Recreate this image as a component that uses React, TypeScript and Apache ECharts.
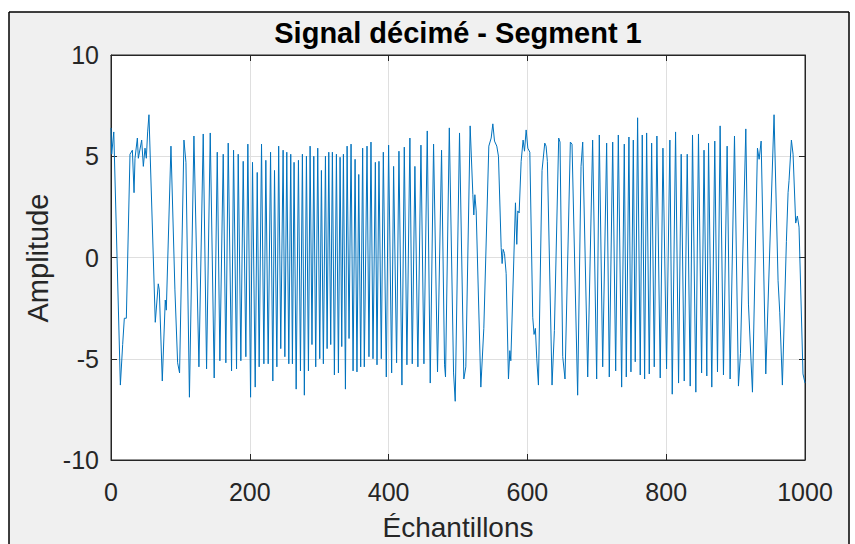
import React, { useEffect, useRef } from "react";
import * as echarts from "echarts";

// Sample positions (x) and amplitudes (y) of the turning points
const SAMPLE_IDX = [
  0, 1, 4, 13.5, 16.8, 19.2, 22.1, 27.4, 30.8, 33.2, 34.6, 38, 39.4, 44.2, 46.6, 49, 50.9, 52.8, 54.7,
  63.8, 68.1, 69.6, 73.9, 78.2, 79.7, 86.4, 92.1, 96, 98.8, 105.1, 108, 113,
  119.5, 126.7, 132.9, 137.7, 143, 148.7, 153.1, 156.9, 161.7, 165.5, 168.9, 173.7, 176.6, 180.9,
  183.3, 187.1, 190.5, 194.3, 197.2, 201.1, 203.9, 207.8, 210.7, 213.5, 216.9, 220.3, 223.1, 226.5,
  229.9, 233.2, 235.6, 239, 241.6, 244.6, 248, 250.5, 253.3, 256.2, 259, 261.4, 263.8, 266.8, 270.1,
  273, 275.8, 278.6, 281.6, 284.5, 286.9, 289.6, 292.2, 295, 297.9, 300.8, 303.2, 306, 309, 311.4,
  313.8, 316.6, 319, 321.9, 324.8, 327.7, 330.1, 332.5, 334.9, 337.8, 340.2, 343, 345.9, 348.8,
  351.7, 354.4, 357, 359.8, 362.6, 365, 368.9, 371.7, 374.6, 377.5, 380.9, 383.3, 386.1, 389.5,
  392.4, 396.7, 400, 404.4, 407.2, 411.5, 414.9, 419.2, 422.6, 426.4, 430.7, 434.1, 437.9, 442.2,
  446.6, 450.9, 455.7, 460, 464.8, 470.5, 476.3, 480.6, 482, 487.5, 493.6, 496, 502.2, 508.4, 511.3,
  517.5, 521.4, 522.8, 524.3, 526.2, 532.9, 537.2, 544.4, 547.8, 550.2, 552.6, 555.9, 558.3, 562.2,
  563.6, 565, 567, 569.4, 572.7, 574.7, 576.1, 582.8, 584.7, 586.2, 588.1, 591, 593.8, 595.8, 598.2,
  600.6, 603.5, 607.7, 609.6, 611.5, 613.5, 615.9, 621.1, 625, 626.9, 628.8, 635.5, 638.9, 645.1,
  647, 650.9, 654.2, 661.9, 664.3, 672.4, 677.3, 679.7, 686.9, 694, 699.8, 703.6, 708.5, 714.2, 718,
  722.9, 727.2, 731, 735.8, 739.6, 742.5, 746.3, 749.2, 752.6, 755.4, 758.8, 762.6, 765.5, 768.9,
  771.8, 775.6, 779, 782.8, 786.6, 791.4, 795.3, 800.5, 805.3, 808.7, 813.5, 817.8, 821.6, 826,
  830.3, 834.6, 837.9, 842.7, 846.5, 851, 854.5, 858.5, 861, 865.7, 870, 873.9, 877.7, 882.5, 887.8,
  892.1, 898.4, 904.1, 907, 914.7, 918.5, 924.3, 931.5, 933.9, 936.8, 943.5, 955.4, 961.2, 963.6,
  967.4, 973.2, 975.6, 977, 980.4, 982.8, 986.6, 989, 991.4, 997.1, 1000,
];

const AMPLITUDE = [
  6.4, 5.1, 6.2, -6.3, -4.3, -3.0, -3.0, 5.1, 5.3, 3.2, 4.9, 5.9, 4.9, 5.8, 4.5, 5.4, 4.9, 6.2, 7.05,
  -3.2, -1.3, -1.6, -6.1, -2.1, -2.6, 5.5, -1.6, -5.2, -5.7, 5.8, 4.7, -6.9,
  6.0, -5.4, 6.1, -5.5, 6.15, -5.95, 5.2, -5.1, 5.1, -5.2, 5.65, -5.6, 5.3, -5.5,
  5.1, -5.1, 4.75, -4.9, 5.6, -6.9, 4.7, -6.4, 4.2, -5.4, 5.6, -5.25, 4.8, -5.25,
  5.2, -6.1, 4.3, -5.4, 5.5, -4.5, 5.3, -4.9, 5.2, -5.25, 5.1, -5.25, 4.7, -6.5, 4.8,
  -5.6, 5.1, -6.8, 5.0, -5.6, 5.5, -4.3, 5.0, -5.4, 5.4, -5.0, 4.3, -5.25, 5.0, -4.5,
  5.2, -4.3, 5.2, -5.8, 5.1, -5.7, 4.95, -4.4, 5.1, -6.5, 5.5, -4.0, 5.6, -5.6,
  4.85, -5.65, 4.1, -5.4, 5.4, -5.4, 5.5, -4.9, 5.7, -5.0, 4.7, -5.3, 4.75, -5.0,
  5.2, -5.9, 5.55, -5.7, 4.5, -5.2, 5.25, -6.3, 5.45, -5.3, 5.9, -5.25, 4.5, -5.4,
  5.55, -5.25, 6.25, -6.2, 5.6, -5.65, 5.3, -5.3, -5.9, 6.4, -5.7, -7.1, 6.15, -6.0, -5.4,
  6.5, 3.1, 2.1, 3.1, 2.3, -6.4, -3.5, 5.5, 5.9, 6.6, 5.75, 5.5, 5.0, 0.5,
  -0.3, 0.4, 0.2, -0.8, -6.0, -4.6, -5.1, 2.7, 0.65, 2.3, 2.2, 4.75, 5.8, 5.25, 6.3,
  5.4, 5.2, -2.95, -3.8, -3.5, -5.0, -6.3, 4.3, 5.65, 5.5, 4.75, -6.3, -3.6, 5.9,
  5.7, -4.9, -6.0, 5.7, 5.6, -6.8, 4.5, 5.7, -5.9, 5.8, -6.0, 6.05, -5.4, 5.65, -5.9,
  5.7, -5.6, 6.05, -6.4, 5.6, -5.9, 5.95, -5.65, 5.8, -5.15, 6.9, -5.8, 6.05, -6.0,
  6.15, -5.75, 5.65, -5.4, 6.0, -5.95, 5.4, -5.5, 5.8, -6.75, 6.2, -6.2, 5.1, -6.1,
  5.1, -6.35, 6.05, -6.65, 6.1, -5.7, 5.3, -5.85, 5.65, -6.4, 5.75, -5.65, 6.5, -5.8, 5.5,
  -6.0, 6.0, -6.35, -4.75, 6.35, -2.3, -6.65, 5.4, 4.85, 5.75, -5.75, 7.05, -1.15, -2.7,
  -6.3, 0.8, 3.2, 3.8, 5.8, 5.1, 1.7, 2.05, 1.5, -5.75, -6.2,
];

const X_MIN = 0;
const X_MAX = 1000;
const X_STEP = 200;
const Y_MIN = -10;
const Y_MAX = 10;
const Y_STEP = 5;

const TITLE = "Signal décimé - Segment 1";
const X_LABEL = "Échantillons";
const Y_LABEL = "Amplitude";

export default function App() {
  const ref = useRef<HTMLDivElement>(null);

  useEffect(() => {
    if (!ref.current) return;
    const chart = echarts.init(ref.current, null, { renderer: "svg" });
    const data = SAMPLE_IDX.map((x, i) => [x, AMPLITUDE[i]]);
    const font = "'Liberation Sans', Arial, Helvetica, sans-serif";
    const axisColor = "#262626";
    const gridColor = "#dfdfdf";
    const plain = (v: number) => String(v);

    const tick = { show: true, inside: true, length: 6, lineStyle: { color: axisColor, width: 1 } };
    const line = { show: true, onZero: false, lineStyle: { color: axisColor, width: 1 } };

    chart.setOption({
      animation: false,
      backgroundColor: "#f0f0f0",
      textStyle: { fontFamily: font },
      grid: {
        left: 111,
        right: 50,
        top: 55,
        bottom: 84,
        show: true,
        backgroundColor: "#ffffff",
        borderColor: axisColor,
        borderWidth: 1,
      },
      xAxis: [
        {
          type: "value",
          min: X_MIN,
          max: X_MAX,
          interval: X_STEP,
          position: "bottom",
          axisLine: line,
          axisTick: tick,
          axisLabel: { color: axisColor, fontSize: 25, margin: 19, fontFamily: font, formatter: plain },
          splitLine: { show: true, lineStyle: { color: gridColor, width: 1 } },
        },
        {
          type: "value",
          min: X_MIN,
          max: X_MAX,
          interval: X_STEP,
          position: "top",
          axisLine: line,
          axisTick: tick,
          axisLabel: { show: false },
          splitLine: { show: false },
        },
      ],
      yAxis: [
        {
          type: "value",
          min: Y_MIN,
          max: Y_MAX,
          interval: Y_STEP,
          position: "left",
          axisLine: line,
          axisTick: tick,
          axisLabel: { color: axisColor, fontSize: 25, margin: 12, fontFamily: font, formatter: plain },
          splitLine: { show: true, lineStyle: { color: gridColor, width: 1 } },
        },
        {
          type: "value",
          min: Y_MIN,
          max: Y_MAX,
          interval: Y_STEP,
          position: "right",
          axisLine: line,
          axisTick: tick,
          axisLabel: { show: false },
          splitLine: { show: false },
        },
      ],
      series: [
        {
          type: "line",
          xAxisIndex: 0,
          yAxisIndex: 0,
          data,
          symbol: "none",
          showSymbol: false,
          clip: true,
          lineStyle: { color: "#0072BD", width: 1 },
        },
      ],
      graphic: [
        { type: "rect", shape: { x: 0, y: 0, width: 855, height: 12 }, style: { fill: "#ffffff" }, silent: true },
        { type: "rect", shape: { x: 0, y: 0, width: 9, height: 544 }, style: { fill: "#ffffff" }, silent: true },
        { type: "rect", shape: { x: 849, y: 0, width: 6, height: 544 }, style: { fill: "#ffffff" }, silent: true },
        { type: "line", shape: { x1: 9, y1: 12, x2: 849, y2: 12 }, style: { stroke: "#000", lineWidth: 1.5 }, silent: true },
        { type: "line", shape: { x1: 9, y1: 12, x2: 9, y2: 544 }, style: { stroke: "#000", lineWidth: 1.5 }, silent: true },
        { type: "line", shape: { x1: 849, y1: 12, x2: 849, y2: 544 }, style: { stroke: "#000", lineWidth: 1.5 }, silent: true },
        {
          type: "text",
          x: 458,
          y: 33,
          style: {
            text: TITLE,
            fill: "#000",
            font: `bold 29px ${font}`,
            align: "center",
            verticalAlign: "middle",
          },
        },
        {
          type: "text",
          x: 458,
          y: 527,
          style: {
            text: X_LABEL,
            fill: axisColor,
            font: `28px ${font}`,
            align: "center",
            verticalAlign: "middle",
          },
        },
        {
          type: "text",
          x: 38,
          y: 258,
          rotation: Math.PI / 2,
          style: {
            text: Y_LABEL,
            fill: axisColor,
            font: `29px ${font}`,
            align: "center",
            verticalAlign: "middle",
          },
        },
      ],
    });

    return () => chart.dispose();
  }, []);

  return <div ref={ref} style={{ position: "fixed", left: 0, top: 0, width: 855, height: 544 }} />;
}
